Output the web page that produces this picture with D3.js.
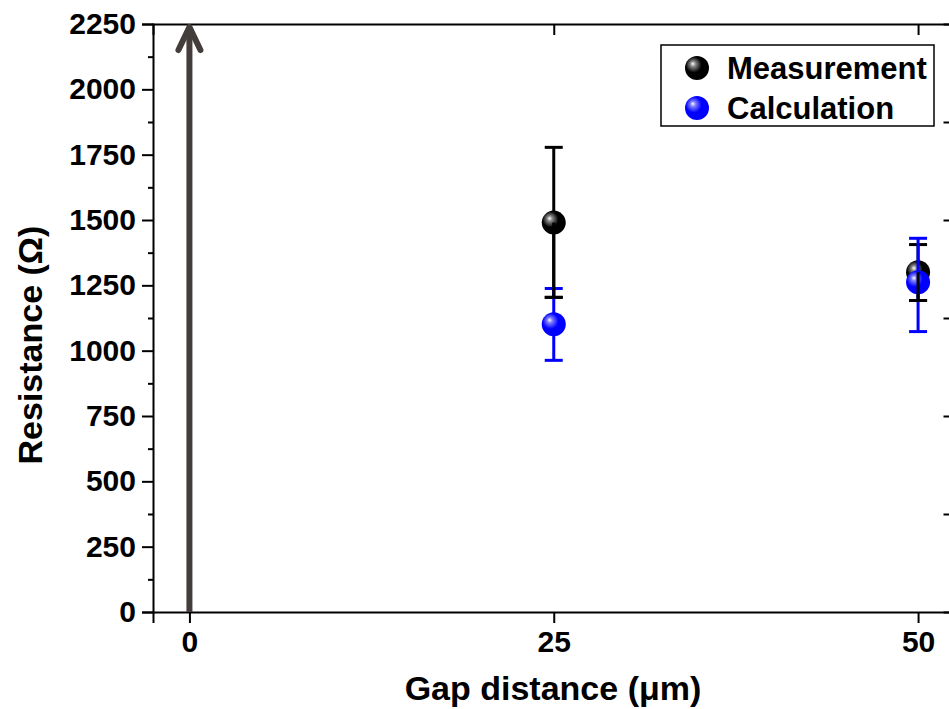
<!DOCTYPE html>
<html>
<head>
<meta charset="utf-8">
<script src="https://cdn.jsdelivr.net/npm/d3@7"></script>
<style>
  body { margin: 0; background: #fff; }
  text { font-family: Arial, "Liberation Sans", sans-serif; font-weight: bold; }
</style>
</head>
<body>
<div id="chart"></div>
<script>
// values
let gaps = [25, 50];
let measured = [1490, 1300];
let measuredUp = [1778, 1406];
let measuredDown = [1204, 1192];
let calculated = [1101, 1262];
let calculatedUp = [1238, 1430];
let calculatedDown = [963, 1073];
let xTicks = [0, 25, 50];
let yTicks = [0, 250, 500, 750, 1000, 1250, 1500, 1750, 2000, 2250];
let yMinor = [125, 375, 625, 875, 1125, 1375, 1625, 1875, 2125];
let rightTicks = [1, 2, 3, 4, 5];
let legendNames = ["Measurement", "Calculation"];

let W = 949, H = 709;
let svg = d3.select("#chart").append("svg")
    .attr("width", W)
    .attr("height", H);

let x = d3.scaleLinear().domain([-2.5, 52.5]).range([153, 954.5]);
let y = d3.scaleLinear().domain([0, 2250]).range([612, 24]);
let yRight = d3.scaleLinear().domain([0, 6]).range([612, 24]);

// sphere gradients
let defs = svg.append("defs");
function sphere(id, base, mid) {
    let g = defs.append("radialGradient").attr("id", id)
        .attr("cx", "40%").attr("cy", "40%").attr("r", "60%")
        .attr("fx", "32%").attr("fy", "32%");
    g.append("stop").attr("offset", "0%").attr("stop-color", "#ffffff");
    g.append("stop").attr("offset", "18%").attr("stop-color", mid);
    g.append("stop").attr("offset", "55%").attr("stop-color", base);
    g.append("stop").attr("offset", "100%").attr("stop-color", base);
}
sphere("ballBlack", "#000000", "#8a8a8a");
sphere("ballBlue", "#0000ff", "#8080ff");

// axes
let left = svg.append("g").attr("transform", "translate(" + x(-2.5) + ",0)")
    .call(d3.axisLeft(y).tickValues(yTicks).tickSize(11).tickPadding(6).tickFormat(d3.format("d")));
svg.append("g").attr("transform", "translate(" + x(-2.5) + ",0)")
    .call(d3.axisLeft(y).tickValues(yMinor).tickSize(5).tickFormat(""))
    .select(".domain").remove();
let bottom = svg.append("g").attr("transform", "translate(0," + y(0) + ")")
    .call(d3.axisBottom(x).tickValues(xTicks).tickSize(11).tickPadding(8));
svg.append("g").attr("transform", "translate(0," + y(2250) + ")")
    .call(d3.axisTop(x).tickValues(xTicks).tickSize(-11).tickFormat(""));
svg.append("g").attr("transform", "translate(" + x(52.5) + ",0)")
    .call(d3.axisRight(yRight).tickValues(rightTicks).tickSize(-11).tickFormat(""));

svg.selectAll(".domain").attr("stroke", "#000").attr("stroke-width", 2);
svg.selectAll(".tick line").attr("stroke", "#000").attr("stroke-width", 2);
left.selectAll("text").style("font-size", "30px").attr("fill", "#000");
bottom.selectAll("text").style("font-size", "30px").attr("fill", "#000");

// arrow at x = 0
let ax = x(0);
svg.append("line")
    .attr("x1", ax).attr("x2", ax)
    .attr("y1", y(0)).attr("y2", y(2250) + 3)
    .attr("stroke", "#433e3c").attr("stroke-width", 6);
svg.append("path")
    .attr("d", d3.line()([[ax - 11, y(2250) + 26], [ax, y(2250) + 3], [ax + 11, y(2250) + 26]]))
    .attr("fill", "none").attr("stroke", "#433e3c")
    .attr("stroke-width", 6).attr("stroke-linecap", "round").attr("stroke-linejoin", "round");

// error bars
function bars(vals, ends, color) {
    let g = svg.append("g").attr("stroke", color).attr("stroke-width", 3);
    gaps.forEach(function(d, i) {
        g.append("line")
            .attr("x1", x(d)).attr("x2", x(d))
            .attr("y1", y(vals[i])).attr("y2", y(ends[i]));
        g.append("line")
            .attr("x1", x(d) - 9).attr("x2", x(d) + 9)
            .attr("y1", y(ends[i])).attr("y2", y(ends[i]));
    });
}
function balls(vals, fill) {
    svg.append("g").selectAll("circle")
        .data(gaps)
        .join("circle")
        .attr("cx", function(d) { return x(d); })
        .attr("cy", function(d, i) { return y(vals[i]); })
        .attr("r", 12)
        .attr("fill", "url(#" + fill + ")");
}

bars(measured, measuredUp, "#000");
bars(measured, measuredDown, "#000");
balls(measured, "ballBlack");
bars(calculated, calculatedUp, "#0000ff");
bars(calculated, calculatedDown, "#0000ff");
balls(calculated, "ballBlue");
bars(measured, measuredDown, "#000");

// legend
let lg = svg.append("g");
lg.append("rect")
    .attr("x", 661).attr("y", 45).attr("width", 273).attr("height", 81)
    .attr("fill", "#fff").attr("stroke", "#000").attr("stroke-width", 1.5);
legendNames.forEach(function(name, i) {
    let cy = 68 + i * 40;
    lg.append("circle").attr("cx", 697).attr("cy", cy).attr("r", 12)
        .attr("fill", i === 0 ? "url(#ballBlack)" : "url(#ballBlue)");
    lg.append("text").attr("x", 727).attr("y", cy + 11)
        .style("font-size", "31px").attr("fill", "#000").text(name);
});

// axis titles
svg.append("text")
    .attr("x", 553).attr("y", 700)
    .attr("text-anchor", "middle")
    .style("font-size", "34px")
    .text("Gap distance (\u03bcm)");
svg.append("text")
    .attr("transform", "translate(42,345) rotate(-90)")
    .attr("text-anchor", "middle")
    .style("font-size", "34px")
    .text("Resistance (\u03a9)");
</script>
</body>
</html>
